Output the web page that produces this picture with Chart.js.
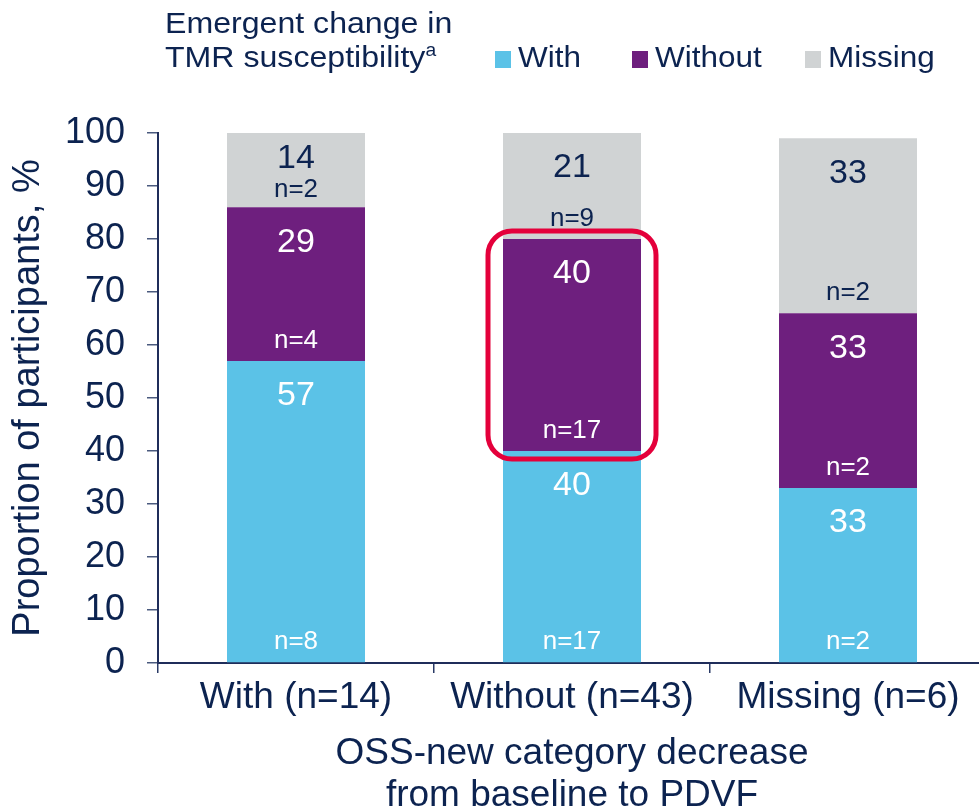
<!DOCTYPE html>
<html>
<head>
<meta charset="utf-8">
<script src="https://cdn.jsdelivr.net/npm/chart.js@4.4.1/dist/chart.umd.min.js"></script>
<style>
    body { margin: 0; overflow: hidden; background: #fff; font-family: 'Liberation Sans', Arial, sans-serif; color: #0c2350; }
    #wrap { position: absolute; left: 0; top: 0; width: 1000px; height: 830px; }
    .lg { position: absolute; font-size: 30px; line-height: 30px; white-space: nowrap; transform-origin: left center; transform: scaleX(1.05); }
    .box { position: absolute; width: 16px; height: 17px; }
</style>
</head>
<body>
<div id="wrap">
    <canvas id="chart" width="1000" height="830"></canvas>
    <div class="lg" style="left:165px; top:8px; transform: scaleX(1.07);">Emergent change in</div>
    <div class="lg" style="left:165px; top:42px; transform: scaleX(1.07);">TMR susceptibility<span style="font-size:18px; position:relative; top:-11px;">a</span></div>
    <div class="box" style="left:495px; top:51px; background:#5bc2e7;"></div>
    <div class="lg" style="left:518px; top:42px;">With</div>
    <div class="box" style="left:632px; top:51px; background:#6e1f7e;"></div>
    <div class="lg" style="left:655px; top:42px;">Without</div>
    <div class="box" style="left:805px; top:51px; background:#d0d3d4;"></div>
    <div class="lg" style="left:828px; top:42px;">Missing</div>
</div>
<script>
const categories = ['With (n=14)', 'Without (n=43)', 'Missing (n=6)'];
const seriesNames = ['With', 'Without', 'Missing'];

// heights (%)
const withValues = [57, 40, 33];
const withoutValues = [29, 40, 33];
const missingValues = [14, 20, 33];

// printed percentages and counts
const withLabels = ['57', '40', '33'];
const withoutLabels = ['29', '40', '33'];
const missingLabels = ['14', '21', '33'];
const withCounts = ['n=8', 'n=17', 'n=2'];
const withoutCounts = ['n=4', 'n=17', 'n=2'];
const missingCounts = ['n=2', 'n=9', 'n=2'];

const yTicks = [0, 10, 20, 30, 40, 50, 60, 70, 80, 90, 100];

const navy = '#0c2350';
const fontFamily = "'Liberation Sans', Arial, sans-serif";
Chart.defaults.font.family = fontFamily;
Chart.defaults.color = navy;

const labelSets = [withLabels, withoutLabels, missingLabels];
const countSets = [withCounts, withoutCounts, missingCounts];
const labelColors = ['#ffffff', '#ffffff', navy];

const segmentLabels = {
    id: 'segmentLabels',
    afterDatasetsDraw(chart) {
        const ctx = chart.ctx;
        ctx.save();
        ctx.textAlign = 'center';
        ctx.textBaseline = 'middle';
        chart.data.datasets.forEach((ds, i) => {
            const meta = chart.getDatasetMeta(i);
            meta.data.forEach((bar, j) => {
                const h = bar.base - bar.y;
                ctx.fillStyle = labelColors[i];
                ctx.font = `34px ${fontFamily}`;
                ctx.fillText(labelSets[i][j], bar.x, bar.y + Math.min(35, h * 0.35));
                ctx.font = `26px ${fontFamily}`;
                ctx.fillText(countSets[i][j], bar.x, bar.base - Math.min(20, h * 0.24));
            });
        });
        ctx.restore();
    }
};

// red rounded frame around the "Without" segment of the middle bar
const highlight = {
    id: 'highlight',
    afterDatasetsDraw(chart) {
        const bar = chart.getDatasetMeta(1).data[1];
        const ctx = chart.ctx;
        const left = bar.x - bar.width / 2 - 15;
        const right = bar.x + bar.width / 2 + 15;
        const top = bar.y - 8;
        const bottom = bar.base + 8;
        ctx.save();
        ctx.strokeStyle = '#e4003b';
        ctx.lineWidth = 5;
        ctx.beginPath();
        ctx.roundRect(left, top, right - left, bottom - top, 24);
        ctx.stroke();
        ctx.restore();
    }
};

new Chart(document.getElementById('chart'), {
    type: 'bar',
    data: {
        labels: categories,
        datasets: [
            { label: seriesNames[0], data: withValues, backgroundColor: '#5bc2e7' },
            { label: seriesNames[1], data: withoutValues, backgroundColor: '#6e1f7e' },
            { label: seriesNames[2], data: missingValues, backgroundColor: '#d0d3d4' }
        ]
    },
    options: {
        responsive: false,
        animation: false,
        layout: { padding: { top: 133, right: 14, left: 0, bottom: 0 } },
        barPercentage: 0.5,
        categoryPercentage: 1,
        plugins: { legend: { display: false }, tooltip: { enabled: false } },
        scales: {
            x: {
                stacked: true,
                afterFit: (scale) => { scale.height = 167; },
                grid: { offset: true, drawOnChartArea: false, tickLength: 10, color: '#2a3a66', lineWidth: 1.5 },
                border: { display: true, color: '#1f2d5a', width: 2 },
                ticks: { font: { size: 37 }, color: navy, padding: 3, maxRotation: 0 },
                title: {
                    display: true,
                    text: ['OSS-new category decrease', 'from baseline to PDVF'],
                    font: { size: 37, lineHeight: 42 / 37 },
                    color: navy,
                    padding: { top: 0, bottom: 13 }
                }
            },
            y: {
                stacked: true,
                min: 0,
                max: 100,
                afterFit: (scale) => { scale.width = 158; },
                afterBuildTicks: (scale) => { scale.ticks = yTicks.map(v => ({ value: v })); },
                grid: { drawOnChartArea: false, tickLength: 11, color: '#4a5a7e', lineWidth: 1.5 },
                border: { display: true, color: '#1f2d5a', width: 2 },
                ticks: { font: { size: 36 }, color: navy, padding: 22 },
                title: {
                    display: true,
                    text: 'Proportion of participants, %',
                    font: { size: 38 },
                    color: navy,
                    padding: { top: 6, bottom: 0 }
                }
            }
        }
    },
    plugins: [segmentLabels, highlight]
});
</script>
</body>
</html>
